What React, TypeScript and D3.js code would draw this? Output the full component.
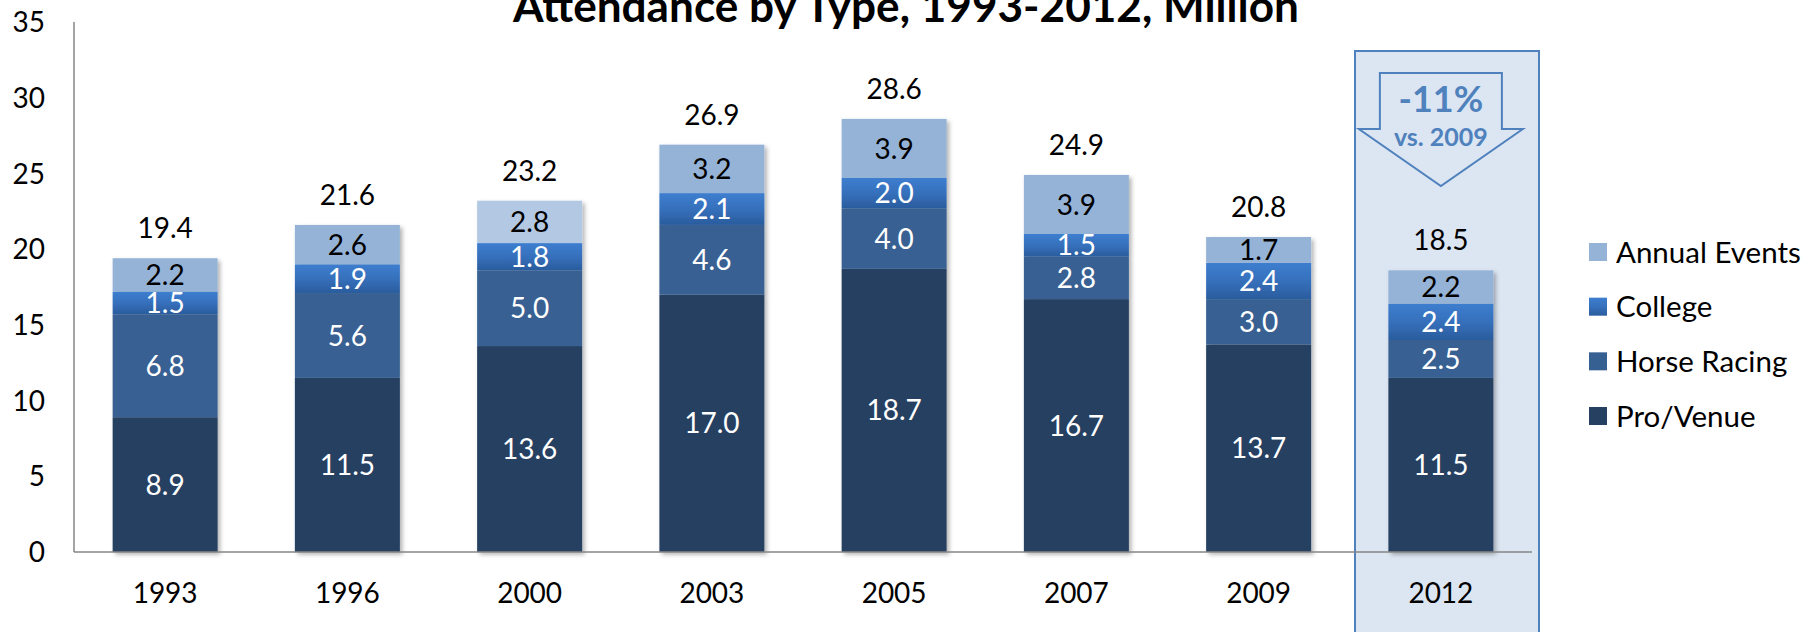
import React from "react";
import * as d3 from "d3";

const years = ["1993", "1996", "2000", "2003", "2005", "2007", "2009", "2012"];
const proVenue = [8.9, 11.5, 13.6, 17.0, 18.7, 16.7, 13.7, 11.5];
const horseRacing = [6.8, 5.6, 5.0, 4.6, 4.0, 2.8, 3.0, 2.5];
const college = [1.5, 1.9, 1.8, 2.1, 2.0, 1.5, 2.4, 2.4];
const annualEvents = [2.2, 2.6, 2.8, 3.2, 3.9, 3.9, 1.7, 2.2];
const totals = [19.4, 21.6, 23.2, 26.9, 28.6, 24.9, 20.8, 18.5];
const yTicks = [0, 5, 10, 15, 20, 25, 30, 35];
const seriesNames = ["Pro/Venue", "Horse Racing", "College", "Annual Events"];
const titleText = "Attendance by Type, 1993-2012, Million";
const changeText = "-11%";
const changeSub = "vs. 2009";

const W = 1815;
const H = 632;
const FONT = "Lato, 'Open Sans', sans-serif";

const colors: Record<string, string> = {
  "Pro/Venue": "#264062",
  "Horse Racing": "#376092",
  College: "url(#collegeGrad)",
  "Annual Events": "#95B3D7",
};

export default function App() {
  const x = d3
    .scaleBand<string>()
    .domain(years)
    .range([74, 1532])
    .paddingInner(0.424)
    .paddingOuter(0.212);
  const y = d3.scaleLinear().domain([0, 35]).range([552, 22]);

  const rows = years.map((yr, i) => ({
    year: yr,
    "Pro/Venue": proVenue[i],
    "Horse Racing": horseRacing[i],
    College: college[i],
    "Annual Events": annualEvents[i],
  }));
  const stack = d3.stack<any>().keys(seriesNames);
  const layers = stack(rows);

  const hiBox = { x0: 1355, x1: 1539, y0: 51 };
  const cx12 = x("2012")! + x.bandwidth() / 2;

  const legendItems = ["Annual Events", "College", "Horse Racing", "Pro/Venue"];
  const legendY = d3.scalePoint<string>().domain(legendItems).range([252, 416]);

  const labelFs = 28;
  const legendFs = 29.5;

  return (
    <svg
      width={W}
      height={H}
      style={{ position: "absolute", left: 0, top: 0, background: "#fff" }}
      fontFamily={FONT}
    >
      <defs>
        <linearGradient id="collegeGrad" x1="0" y1="0" x2="0" y2="1">
          <stop offset="0" stopColor="#3D7ECF" />
          <stop offset="0.5" stopColor="#3670BC" />
          <stop offset="1" stopColor="#2A5C9D" />
        </linearGradient>
        <filter id="shadow" x="-10%" y="-10%" width="130%" height="130%">
          <feDropShadow dx="2.5" dy="2.5" stdDeviation="2" floodColor="#000" floodOpacity="0.3" />
        </filter>
      </defs>

      {/* highlight box for 2012 */}
      <rect
        x={hiBox.x0}
        y={hiBox.y0}
        width={hiBox.x1 - hiBox.x0}
        height={H - hiBox.y0 + 10}
        fill="#DCE6F2"
        stroke="#4F81BD"
        strokeWidth={2}
      />
      {/* arrow */}
      <polygon
        points={[
          [cx12 - 61, 73],
          [cx12 + 61, 73],
          [cx12 + 61, 129],
          [cx12 + 82, 129],
          [cx12, 186],
          [cx12 - 82, 129],
          [cx12 - 61, 129],
        ]
          .map((p) => p.join(","))
          .join(" ")}
        fill="#DCE6F2"
        stroke="#4F81BD"
        strokeWidth={2}
      />
      <text x={cx12} y={112} textAnchor="middle" fontSize={36} fontWeight={700} fill="#4F81BD">
        {changeText}
      </text>
      <text x={cx12} y={146} textAnchor="middle" fontSize={25} fontWeight={700} fill="#4F81BD">
        {changeSub}
      </text>

      {/* title */}
      <text
        x={906}
        y={22}
        textAnchor="middle"
        fontSize={43}
        fontWeight={700}
        fill="#000"
        textLength={786}
        lengthAdjust="spacingAndGlyphs"
      >
        {titleText}
      </text>

      {/* bars */}
      <g filter="url(#shadow)">
        {years.map((yr, i) => (
          <g key={yr}>
            {layers.map((layer) => {
              const d = layer[i];
              return (
                <rect
                  key={layer.key}
                  x={x(yr)}
                  y={y(d[1])}
                  width={x.bandwidth()}
                  height={y(d[0]) - y(d[1])}
                  fill={
                    layer.key === "Annual Events" && yr === "2000" ? "#B3C9E3" : colors[layer.key]
                  }
                />
              );
            })}
          </g>
        ))}
      </g>

      {/* segment labels */}
      {layers.map((layer) =>
        years.map((yr, i) => {
          const d = layer[i];
          const cy = (y(d[0]) + y(d[1])) / 2;
          return (
            <text
              key={layer.key + yr}
              x={x(yr)! + x.bandwidth() / 2}
              y={cy + labelFs * 0.36}
              textAnchor="middle"
              fontSize={labelFs}
              fill={layer.key === "Annual Events" ? "#000" : "#fff"}
            >
              {(d[1] - d[0]).toFixed(1)}
            </text>
          );
        })
      )}

      {/* total labels */}
      {years.map((yr, i) => (
        <text
          key={"t" + yr}
          x={x(yr)! + x.bandwidth() / 2}
          y={y(layers[3][i][1]) - 20}
          textAnchor="middle"
          fontSize={labelFs}
          fill="#000"
        >
          {totals[i].toFixed(1)}
        </text>
      ))}

      {/* axes */}
      <line x1={74} y1={22} x2={74} y2={552} stroke="#868686" strokeWidth={1.5} />
      <line x1={74} y1={552} x2={1532} y2={552} stroke="#868686" strokeWidth={1.5} />

      {yTicks.map((t) => (
        <text
          key={"y" + t}
          x={45}
          y={y(t) + labelFs * 0.36}
          textAnchor="end"
          fontSize={labelFs}
          fill="#000"
        >
          {t}
        </text>
      ))}

      {years.map((yr) => (
        <text
          key={"x" + yr}
          x={x(yr)! + x.bandwidth() / 2}
          y={603}
          textAnchor="middle"
          fontSize={labelFs}
          fill="#000"
        >
          {yr}
        </text>
      ))}

      {/* legend */}
      {legendItems.map((name) => (
        <g key={"lg" + name}>
          <rect
            x={1589}
            y={legendY(name)! - 9}
            width={18}
            height={18}
            fill={colors[name]}
          />
          <text x={1616} y={legendY(name)! + legendFs * 0.36} fontSize={legendFs} fill="#000">
            {name}
          </text>
        </g>
      ))}
    </svg>
  );
}
